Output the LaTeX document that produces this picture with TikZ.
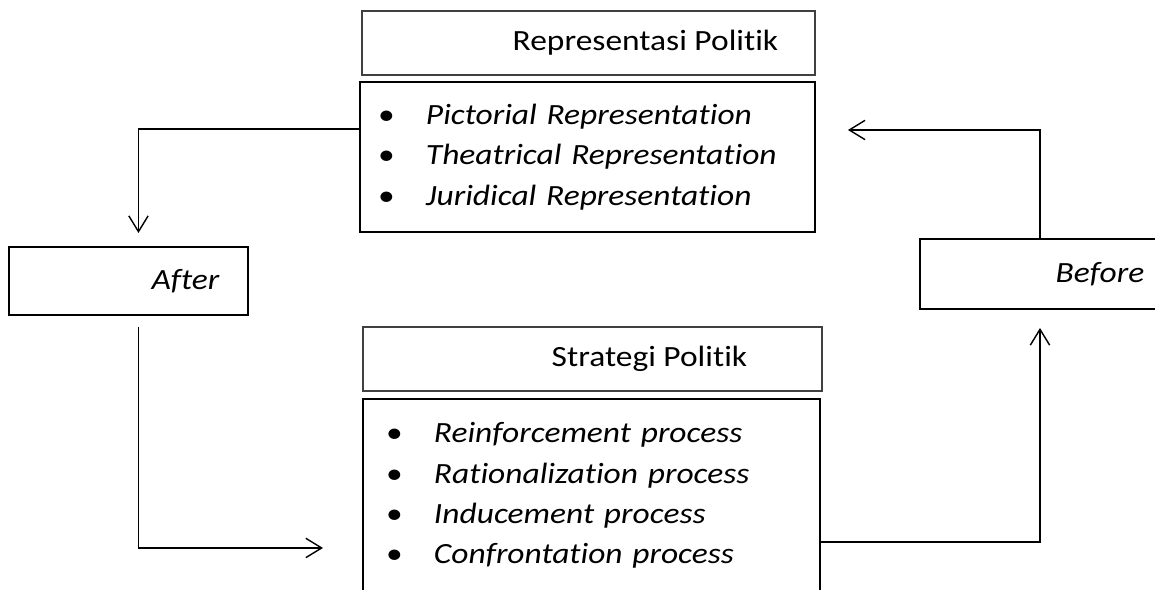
\documentclass[tikz,border=0pt]{standalone}
\usepackage{fontspec}
\setmainfont{Carlito}[Ligatures=NoCommon, FakeStretch=1.14]
\usetikzlibrary{arrows.meta}
\newcommand{\itm}{\makebox[0.96cm][l]{\upshape\textbullet}}
\newcommand{\ind}{\hspace*{2.28cm}}

\begin{document}
\begin{tikzpicture}[x=0.02cm, y=-0.02cm, head/.style={draw=black!75, line width=0.7pt, anchor=north west, inner sep=0pt, outer sep=0pt, font=\fontsize{16.7}{20}\selectfont}, list/.style={draw, line width=1.1pt, anchor=north west, align=left, inner ysep=0pt, outer sep=0pt, font=\fontsize{16.7}{23}\selectfont\itshape}, flow/.style={-{Straight Barb[length=9pt,width=11pt]}, line width=0.8pt}]
\clip (0,0) rectangle (1155,590);
\node[head, minimum width=9.06cm, minimum height=1.28cm] (rp) at (362,11) {\ind Representasi Politik};
\node[list, inner xsep=0.36cm, text width=8.38cm, minimum height=3cm] (rl) at (360,82) {\itm Pictorial Representation\\\itm Theatrical Representation\\\itm Juridical Representation};
\node[head, minimum width=9.18cm, minimum height=1.28cm] (sp) at (363,327) {\ind Strategi Politik};
\node[list, inner xsep=0.46cm, text width=8.22cm, minimum height=3.86cm] (sl) at (363,399) {\itm Reinforcement process\\\itm Rationalization process\\\itm Inducement process\\\itm Confrontation process};
\node[head, draw=black, line width=1pt, minimum width=4.78cm, minimum height=1.36cm] (af) at (9,247) {\ind\itshape After};
\node[head, draw=black, line width=1pt, minimum width=4.92cm, minimum height=1.4cm] (bf) at (920,239) {\ind\itshape Before};
\draw[flow] ([yshift=-0.94cm]rl.north west) -| ([xshift=0.2cm,yshift=0.28cm]af.north);
\draw[flow] ([xshift=0.2cm,yshift=-0.24cm]af.south) |- ([xshift=-0.8cm,yshift=-1.05cm]sl.west);
\draw[flow] ([yshift=-0.93cm]sl.east) -| ([xshift=-0.06cm,yshift=-0.38cm]bf.south);
\draw[flow] ([xshift=-0.06cm]bf.north) |- ([xshift=0.66cm,yshift=-0.96cm]rl.north east);
\end{tikzpicture}
\end{document}
